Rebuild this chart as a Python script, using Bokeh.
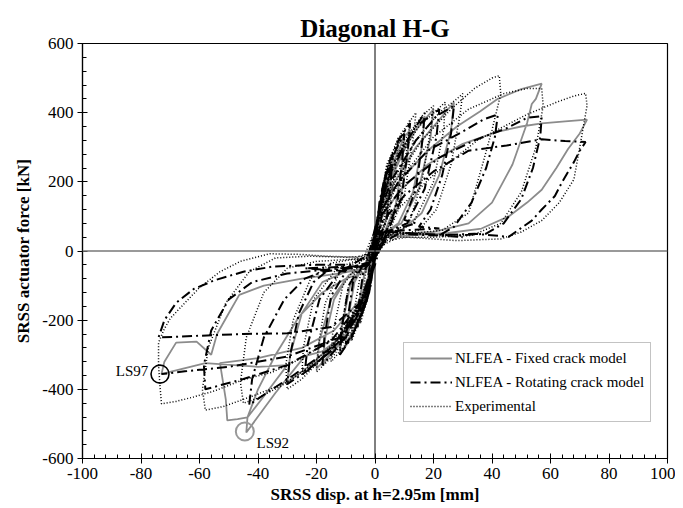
from bokeh.plotting import figure
from bokeh.models import Span, SingleIntervalTicker, Legend, LegendItem, NumeralTickFormatter
from bokeh.core.properties import value
from bokeh.embed import file_html
from bokeh.resources import INLINE

# ---------------- data ----------------
FIXED = [
    (0, 0), (1.5, 130), (3, 200), (2.5, 130), (1, 40), (0, 0), (-1.5, -90), (-3, -150), (-2.5, -90), (-1, -20), (0, 0),
    (1.5, 120), (3.5, 200), (6, 270), (5.3, 190), (3.5, 80), (1, 30), (0, -10), (-2, -110), (-6, -220), (-5.5, -150), (-3.5, -60), (-1, -10),
    (1, 70), (4, 190), (7, 270), (10, 330), (9.2, 250), (7, 130), (3, 50), (0, -10), (-3, -130), (-7, -220), (-10, -270), (-9.3, -200), (-7, -90), (-3, -30), (-1, -10),
    (1, 90), (4, 230), (8, 310), (12, 350), (11, 270), (8.5, 140), (4, 60), (0, -10), (-3, -140), (-8, -250), (-12, -300), (-11.3, -220), (-8.5, -100), (-4, -40), (-1, -20),
    (1, 80), (5, 200), (11, 310), (17, 390), (16, 300), (13, 170), (8, 80), (3, 50), (0, -10), (-3, -120), (-9, -230), (-18, -330), (-17, -250), (-14, -140), (-9, -70), (-3, -40),
    (1, 90), (6, 230), (13, 340), (20, 410), (19, 330), (15, 180), (9, 80), (3, 50), (0, -10), (-4, -150), (-11, -260), (-20, -340), (-19, -260), (-15, -140), (-9, -70), (-3, -45),
    (1, 90), (6, 190), (14, 300), (22, 380), (27, 430), (26, 350), (22, 220), (16, 110), (9, 60), (3, 50), (0, -10), (-4, -130), (-12, -250), (-22, -330), (-30, -380), (-29, -300), (-25, -180), (-18, -90), (-10, -60), (-3, -50),
    (1, 100), (8, 200), (18, 290), (28, 360), (36, 404), (42, 440), (46, 454), (50, 468), (57, 484), (55, 440), (53.6, 425), (52, 370), (47, 250), (40, 140), (32, 80), (20, 55), (8, 50), (2, 40),
    (0, -20), (-4, -140), (-10, -240), (-18, -290), (-24, -304), (-34, -410), (-44, -525), (-43.6, -481), (-40, -400), (-34, -300), (-26, -190), (-18, -120), (-10, -80), (-3, -60),
    (1, 80), (8, 170), (18, 250), (30, 310), (42, 345), (50, 360), (57, 369), (65, 375), (72.5, 380), (70, 340), (66, 295), (62, 240), (57, 177), (52, 140), (45.7, 100), (36.4, 65), (25, 52), (12, 45), (4, 40),
    (0, -20), (-5, -140), (-14, -230), (-25, -280), (-40, -310), (-53, -324), (-51, -430), (-50.5, -490), (-47, -486), (-43.6, -481), (-38, -420), (-30, -330),
    (-40, -335), (-58, -324), (-70.4, -350), (-73, -356), (-72, -320), (-68, -265), (-61, -262), (-56, -300), (-54, -240), (-50, -180), (-46.4, -127), (-38, -100), (-25, -80), (-12, -65), (-3, -50), (0, 0),
]

ROTATING = [
    (0, 0), (1.5, 140), (3, 200), (2.6, 130), (1.5, 40), (0, -10), (-1.5, -100), (-3, -150), (-2.6, -90), (-1.5, -20), (0, 10),
    (1.5, 130), (3.5, 210), (6, 280), (5.4, 200), (4, 90), (1.5, 40), (0, -20), (-2, -120), (-6, -220), (-5.5, -150), (-4, -60), (-1, -20),
    (1, 90), (4, 210), (7, 290), (10, 340), (9.3, 260), (7.5, 130), (4, 60), (1, 40), (0, -20), (-3, -140), (-7, -230), (-10, -270), (-9.4, -200), (-7.5, -90), (-4, -40), (-1, -30),
    (1, 100), (4, 240), (8, 320), (12, 370), (11.2, 290), (9, 150), (5, 70), (0, -20), (-3, -150), (-8, -250), (-12, -300), (-11.3, -220), (-9, -100), (-5, -45), (-1, -30),
    (1, 100), (5, 220), (11, 320), (17, 400), (16.2, 320), (14, 180), (10, 90), (14, 80), (6, 60), (1, 50), (0, -20), (-3, -140), (-10, -250), (-18, -330), (-17.3, -250), (-15, -130), (-10, -60), (-14, -55), (-5, -40), (-1, -30),
    (1, 110), (6, 250), (14, 360), (22, 410), (21, 330), (17, 180), (11, 80), (4, 55), (0, -20), (-4, -160), (-12, -270), (-24, -350), (-23, -270), (-19, -140), (-12, -60), (-3, -40),
    (1, 100), (6, 210), (14, 320), (21, 390), (27, 420), (26, 340), (23, 220), (19, 120), (15, 70), (22, 65), (10, 60), (3, 55), (0, -20), (-4, -150), (-12, -260), (-22, -340), (-30, -385), (-29, -300), (-26, -180), (-21, -90), (-16, -55), (-24, -50), (-8, -45), (-2, -40),
    (1, 100), (8, 200), (18, 290), (31, 350), (37, 380), (42, 395), (41, 330), (38, 240), (33, 140), (27, 70), (22, 45), (30, 40), (15, 50), (5, 55), (0, -20), (-5, -160), (-15, -280), (-28, -360), (-37, -410), (-43, -445), (-42, -370), (-38, -250), (-31, -140), (-24, -80), (-18, -60), (-8, -50), (-2, -40),
    (1, 90), (10, 190), (22, 270), (34, 320), (45, 355), (52, 385), (57, 390), (56.5, 330), (54, 240), (50, 150), (44, 80), (38, 50), (28, 45), (15, 50), (5, 55), (0, -20),
    (-5, -150), (-15, -260), (-30, -330), (-45, -370), (-58, -400), (-58.5, -330), (-56, -230), (-50, -140), (-42, -90), (-30, -65), (-18, -55), (-6, -45), (-2, -40),
    (2, 80), (10, 160), (20, 230), (32, 290), (45, 305), (57, 323), (65, 318), (72, 315), (70, 290), (68, 257), (64, 200), (61.5, 159), (57, 120), (53.6, 88), (45.7, 41), (34, 50), (20, 45), (8, 50), (2, 20), (0, -40),
    (-5, -150), (-15, -220), (-30, -238), (-45, -240), (-60, -245), (-74, -250), (-72, -200), (-68, -150), (-62, -110), (-55, -85), (-45, -60), (-35, -45), (-20, -40), (-8, -40), (0, 0),
    (2, 60), (1, 20), (-3, -150), (-12, -250), (-30, -305), (-50, -335), (-65, -348), (-73, -356),
]

EXPERIMENTAL = [
    (0, 0), (1.5, 120), (3, 180), (2.5, 120), (1.5, 40), (0, 0), (-1.5, -90), (-3, -150), (-2.5, -100), (-1.5, -30), (0, 0),
    (1, 60), (2.5, 180), (5, 260), (4.5, 200), (3, 80), (1, 20), (0, -20), (-2, -120), (-5, -210), (-4.5, -150), (-3, -50), (-1, 0),
    (1, 80), (4, 240), (8, 330), (7.3, 260), (5, 120), (2, 40), (0, -10), (-3, -150), (-8, -260), (-7.5, -190), (-5, -70), (-2, -10),
    (0.5, 60), (4, 220), (8, 310), (12, 380), (11, 300), (8, 150), (4, 60), (1, 30), (0, -20), (-3, -140), (-7, -230), (-12, -300), (-11.5, -220), (-9, -100), (-5, -30), (-1, -10),
    (1, 100), (4, 250), (9, 340), (14, 400), (13, 320), (10, 160), (5, 60), (0, -15), (-3, -150), (-9, -260), (-15, -320), (-14.5, -240), (-11, -100), (-5, -30), (-1, -10),
    (0.5, 80), (4, 200), (10, 320), (16, 390), (20, 420), (19, 350), (16, 200), (12, 90), (6, 50), (2, 40), (0, -20), (-3, -130), (-8, -230), (-14, -300), (-20, -350), (-19.5, -280), (-17, -150), (-12, -60), (-6, -30), (-2, -20),
    (1, 90), (6, 240), (15, 360), (24, 430), (23.5, 350), (20, 200), (13, 80), (5, 45), (0, -20), (-4, -150), (-14, -280), (-25, -360), (-24.5, -280), (-21, -140), (-13, -50), (-4, -20),
    (1, 80), (6, 200), (14, 320), (22, 400), (28, 440), (30, 455), (29, 390), (26, 250), (21, 120), (15, 60), (8, 45), (3, 40), (0, -20), (-3, -120), (-9, -220), (-18, -310), (-25, -370), (-30, -400), (-30.5, -330), (-28, -200), (-22, -80), (-15, -35), (-8, -25), (-2, -20),
    (1, 90), (7, 200), (16, 320), (26, 410), (34, 470), (40, 500), (42.5, 507), (43, 454), (40, 350), (37, 257), (32, 110), (23, 60), (12, 50), (4, 45), (0, -20), (-4, -130), (-12, -250), (-22, -330), (-32, -390), (-40, -425), (-45, -440), (-46, -380), (-44, -250), (-38, -120), (-30, -50), (-20, -30), (-10, -25), (-3, -20),
    (2, 100), (9, 210), (20, 330), (32, 410), (44, 455), (52, 470), (57, 470), (57.5, 420), (55, 300), (50, 170), (43, 80), (33, 45), (20, 40), (8, 40), (1, 10), (-2, -80), (-8, -200), (-18, -310), (-30, -380), (-42, -420), (-52, -450), (-58, -460), (-59, -400), (-57, -280), (-51, -150), (-43, -60), (-34, -20), (-22, -15), (-10, -18), (-3, -15),
    (3, 90), (9, 130), (20, 220), (35, 320), (52, 395), (62, 430), (68, 448), (72, 456), (72.5, 420), (70, 300), (68, 207), (63, 140), (57, 88), (50, 55), (43, 35), (28, 30), (11, 40), (4, 30), (0, -20),
    (-4, -140), (-12, -240), (-25, -310), (-35, -350), (-45, -372), (-55, -405), (-62, -422), (-68, -435), (-73, -442), (-73.5, -392), (-74, -330), (-74, -265), (-72, -225), (-70, -195), (-65, -150), (-60, -106), (-53, -60), (-46, -30), (-36, -8), (-25, -10), (-17, -15), (-6, -18), (0, 0),
]

ls_names = ["LS97", "LS92"]
ls_x = [-73.5, -44.5]
ls_y = [-356, -522]

series_labels = ["NLFEA - Fixed crack model", "NLFEA - Rotating crack model", "Experimental"]
x_ticks_interval = 20
y_ticks_interval = 200

# ---------------- figure ----------------
SERIF = "Liberation Serif"

p = figure(width=675, height=506, x_range=(-100, 100), y_range=(-600, 600),
           output_backend="svg", toolbar_location=None,
           min_border_left=82, min_border_right=8, min_border_top=43, min_border_bottom=42)

p.title.text = "Diagonal H-G"
p.title.align = "center"
p.title.text_font = SERIF
p.title.text_font_size = "25px"
p.title.text_font_style = "bold"
p.title.text_color = "black"
p.title.standoff = 4

p.xgrid.visible = False
p.ygrid.visible = False
p.outline_line_color = "black"
p.outline_line_width = 1.2
p.background_fill_color = "white"
p.border_fill_color = "white"

p.xaxis.ticker = SingleIntervalTicker(interval=x_ticks_interval, num_minor_ticks=5)
p.yaxis.ticker = SingleIntervalTicker(interval=y_ticks_interval, num_minor_ticks=5)
p.xaxis.formatter = NumeralTickFormatter(format="0")
p.yaxis.formatter = NumeralTickFormatter(format="0")
for ax in (p.xaxis, p.yaxis):
    ax.axis_line_color = "black"
    ax.axis_line_width = 1.2
    ax.major_tick_in = 5
    ax.major_tick_out = 5
    ax.minor_tick_in = 4
    ax.minor_tick_out = 0
    ax.major_tick_line_color = "black"
    ax.minor_tick_line_color = "black"
    ax.major_label_text_font = SERIF
    ax.major_label_text_font_size = "17px"
    ax.major_label_text_color = "black"
    ax.axis_label_text_font = SERIF
    ax.axis_label_text_font_size = "17px"
    ax.axis_label_text_font_style = "bold"
    ax.axis_label_text_color = "black"
p.xaxis.major_label_standoff = 4
p.yaxis.major_label_standoff = 4
p.xaxis.axis_label_standoff = 3
p.yaxis.axis_label_standoff = 6
p.xaxis.axis_label = "SRSS disp. at h=2.95m [mm]"
p.yaxis.axis_label = "SRSS actuator force [kN]"

p.add_layout(Span(location=0, dimension="width", line_color="#777777", line_width=1.6))
p.add_layout(Span(location=0, dimension="height", line_color="black", line_width=1))

fx, fy = zip(*FIXED)
rx, ry = zip(*ROTATING)
ex, ey = zip(*EXPERIMENTAL)

r_fixed = p.line(list(fx), list(fy), line_color="#8c8c8c", line_width=1.8)
r_rot = p.line(list(rx), list(ry), line_color="black", line_width=2, line_dash="10 4 2 4")
r_exp = p.line(list(ex), list(ey), line_color="black", line_width=1.5, line_dash="1 2")

p.scatter([ls_x[0]], [ls_y[0]], marker="circle", size=18, fill_color=None, line_color="black", line_width=1.6)
p.scatter([ls_x[1]], [ls_y[1]], marker="circle", size=18, fill_color=None, line_color="#999999", line_width=2)

p.text(x=[ls_x[0] - 4], y=[ls_y[0] + 10], text=[ls_names[0]], text_font=value(SERIF),
       text_font_size=value("15px"), text_align="right", text_baseline="middle", text_color="black")
p.text(x=[ls_x[1] + 4], y=[ls_y[1] - 32], text=[ls_names[1]], text_font=value(SERIF),
       text_font_size=value("15px"), text_align="left", text_baseline="middle", text_color="black")

legend = Legend(items=[LegendItem(label=series_labels[0], renderers=[r_fixed]),
                       LegendItem(label=series_labels[1], renderers=[r_rot]),
                       LegendItem(label=series_labels[2], renderers=[r_exp])],
                location=(321, 36))
legend.label_text_font = SERIF
legend.label_text_font_size = "15px"
legend.label_text_color = "black"
legend.glyph_width = 42
legend.glyph_height = 18
legend.label_standoff = 3
legend.spacing = 6
legend.padding = 6
legend.margin = 0
legend.border_line_color = "#888888"
legend.border_line_width = 1
legend.background_fill_alpha = 1
p.add_layout(legend, "center")

open("out.html", "w").write(file_html(p, INLINE))
